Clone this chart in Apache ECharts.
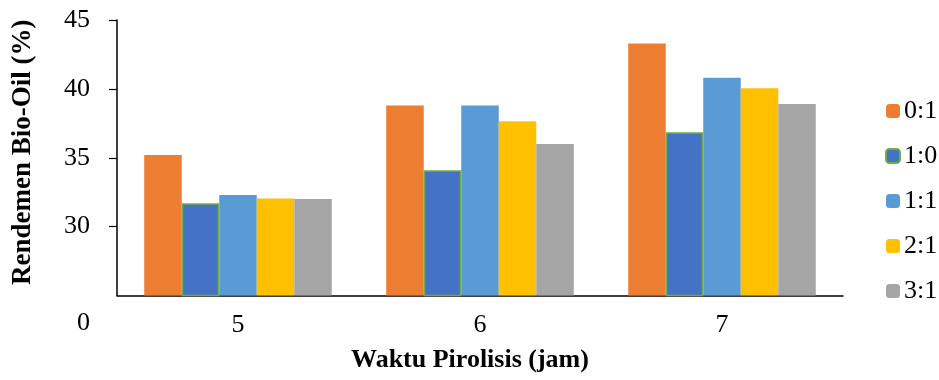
<!DOCTYPE html>
<html>
<head>
<meta charset="utf-8">
<script src="https://cdn.jsdelivr.net/npm/echarts@6/dist/echarts.min.js"></script>
<style>html,body{margin:0;padding:0;background:#fff;}#c{width:939px;height:380px;}</style>
</head>
<body>
<div id="c"></div>
<script>
const categories = ['5', '6', '7'];
const seriesNames = ['0:1', '1:0', '1:1', '2:1', '3:1'];
const s01 = [35.2, 38.8, 43.3];
const s10 = [31.7, 34.1, 36.85];
const s11 = [32.3, 38.8, 40.8];
const s21 = [32.05, 37.65, 40.05];
const s31 = [32.0, 36.0, 38.9];
const yTickLabels = [25, 30, 35, 40, 45];
const yTicks = [30, 35, 40, 45];

const colors = ['#ED7D31', '#4472C4', '#5B9BD5', '#FFC000', '#A5A5A5'];
const values = [s01, s10, s11, s21, s31];
const font = 'Liberation Serif';

const chart = echarts.init(document.getElementById('c'));
chart.setOption({
  animation: false,
  grid: {left: 117, right: 96, top: 20, bottom: 84.5},
  legend: {
    orient: 'vertical', left: 885, top: 98, padding: 0,
    itemWidth: 14, itemHeight: 14, itemGap: 19,
    textStyle: {fontFamily: font, fontSize: 26, color: '#000', lineHeight: 26, padding: [0,0,0,-1]},
    data: seriesNames
  },
  xAxis: {
    type: 'category', data: categories,
    name: 'Waktu Pirolisis (jam)', nameLocation: 'middle', nameGap: 52,
    nameTextStyle: {fontFamily: font, fontSize: 26, fontWeight: 'bold', color: '#000', padding: [0,20,0,0]},
    axisLine: {lineStyle: {color: '#000', width: 1.5}},
    axisTick: {show: false},
    axisLabel: {fontFamily: font, fontSize: 26, color: '#000', margin: 17}
  },
  yAxis: {
    type: 'value', min: 25, max: 45, interval: 5,
    name: 'Rendemen Bio-Oil (%)', nameLocation: 'middle', nameGap: 80,
    nameTextStyle: {fontFamily: font, fontSize: 27, fontWeight: 'bold', color: '#000', padding: [0,0,0,11]},
    splitLine: {show: false},
    axisLine: {show: true, lineStyle: {color: '#000', width: 1.5}},
    axisTick: {show: true, inside: false, length: 8, lineStyle: {color: '#000', width: 1.2}, customValues: yTicks},
    axisLabel: {
      fontFamily: font, fontSize: 26, color: '#000', margin: 27,
      customValues: yTickLabels,
      formatter: v => v === 25 ? '{z|0}' : String(v),
      rich: {z: {fontFamily: font, fontSize: 26, color: '#000', padding: [56, 0, 0, 0]}}
    }
  },
  series: seriesNames.map((n, i) => ({
    name: n, type: 'bar', data: values[i],
    barGap: '0%', barCategoryGap: '22.5%',
    itemStyle: i === 1 ? {color: colors[i], borderColor: '#70AD47', borderWidth: 1.5} : {color: colors[i]}
  }))
});
</script>
</body>
</html>
